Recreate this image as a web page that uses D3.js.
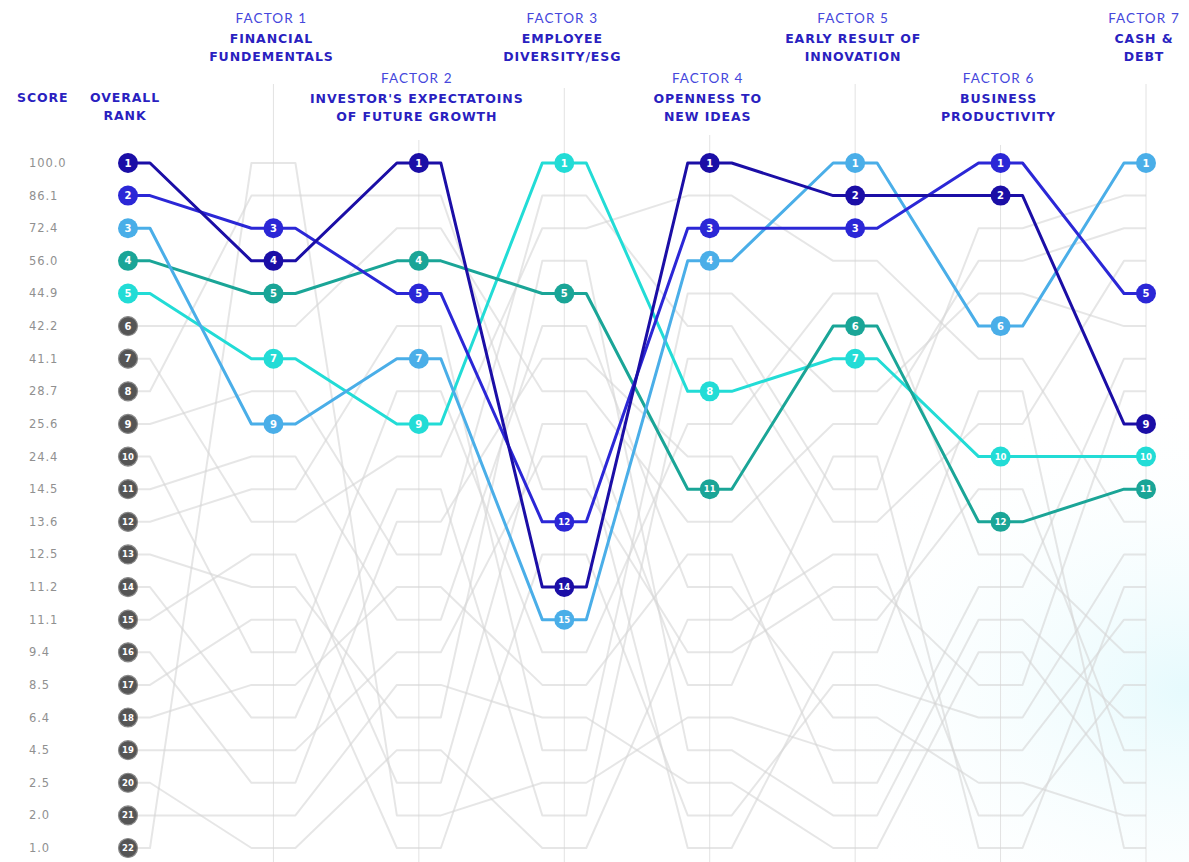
<!DOCTYPE html>
<html>
<head>
<meta charset="utf-8">
<script src="https://cdn.jsdelivr.net/npm/d3@7/dist/d3.min.js"></script>
<style>
  html, body { margin: 0; padding: 0; background: #ffffff; }
  svg { display: block; }
</style>
</head>
<body>
<svg id="chart" width="1189" height="862"></svg>
<script>
// Columns of the ranking chart: overall rank followed by seven factors
const columns = ["overall", "f1", "f2", "f3", "f4", "f5", "f6", "f7"];
const factorNumbers = ["", "FACTOR 1", "FACTOR 2", "FACTOR 3", "FACTOR 4", "FACTOR 5", "FACTOR 6", "FACTOR 7"];
const factorTitles = [
  ["OVERALL", "RANK"],
  ["FINANCIAL", "FUNDEMENTALS"],
  ["INVESTOR'S EXPECTATOINS", "OF FUTURE GROWTH"],
  ["EMPLOYEE", "DIVERSITY/ESG"],
  ["OPENNESS TO", "NEW IDEAS"],
  ["EARLY RESULT OF", "INNOVATION"],
  ["BUSINESS", "PRODUCTIVITY"],
  ["CASH &", "DEBT"]
];
// header sits high (0) or low (1)
const headerLevel = [1, 0, 1, 0, 1, 0, 1, 0];

const ranks = d3.range(1, 23);
const scoreLabels = ["100.0", "86.1", "72.4", "56.0", "44.9", "42.2", "41.1", "28.7", "25.6", "24.4",
  "14.5", "13.6", "12.5", "11.2", "11.1", "9.4", "8.5", "6.4", "4.5", "2.5", "2.0", "1.0"];

// Top five companies: rank in each column
const rankSeries1 = [1, 4, 1, 14, 1, 2, 2, 9];
const rankSeries2 = [2, 3, 5, 12, 3, 3, 1, 5];
const rankSeries3 = [3, 9, 7, 15, 4, 1, 6, 1];
const rankSeries4 = [4, 5, 4, 5, 11, 6, 12, 11];
const rankSeries5 = [5, 7, 9, 1, 8, 7, 10, 10];
const highlightColors = ["#1b0ea6", "#2b27d6", "#4aaee8", "#1aa597", "#22dcd6"];

// Remaining companies (overall ranks 6 to 22), rank in each column
const otherRanks = [
  [6, 6, 3, 8, 12, 9, 4, 3],
  [7, 12, 10, 3, 2, 4, 7, 12],
  [8, 2, 2, 11, 16, 14, 17, 8],
  [9, 8, 13, 2, 6, 11, 3, 2],
  [10, 16, 8, 16, 9, 5, 13, 16],
  [11, 10, 15, 6, 14, 18, 20, 21],
  [12, 11, 6, 19, 5, 8, 5, 6],
  [13, 14, 18, 4, 19, 21, 15, 18],
  [14, 18, 11, 21, 7, 12, 9, 4],
  [15, 13, 20, 9, 17, 10, 22, 14],
  [16, 20, 12, 7, 10, 15, 11, 19],
  [17, 15, 22, 13, 21, 17, 18, 13],
  [18, 17, 14, 17, 13, 20, 14, 7],
  [19, 19, 16, 10, 22, 16, 8, 22],
  [20, 22, 19, 22, 15, 13, 21, 17],
  [21, 21, 17, 18, 20, 22, 16, 20],
  [22, 1, 21, 20, 18, 19, 19, 15]
];

const highlightSeries = [rankSeries1, rankSeries2, rankSeries3, rankSeries4, rankSeries5];

const svg = d3.select("#chart");
const W = 1189, H = 862;

// soft tint in the lower right corner
const defs = svg.append("defs");
const grad = defs.append("radialGradient").attr("id", "tint")
  .attr("cx", "1").attr("cy", "0.8").attr("r", "0.35");
grad.append("stop").attr("offset", "0").attr("stop-color", "#e6fafd").attr("stop-opacity", 1);
grad.append("stop").attr("offset", "1").attr("stop-color", "#ffffff").attr("stop-opacity", 0);
svg.append("rect").attr("width", W).attr("height", H).attr("fill", "#fff");
svg.append("rect").attr("width", W).attr("height", H).attr("fill", "url(#tint)");

const x = d3.scalePoint().domain(columns).range([128, 1146]);
const y = d3.scalePoint().domain(ranks).range([163, 848]);
const stub = 22;

// vertical guides for each factor
const guideTop = [0, 84, 140, 88, 135, 84, 145, 84];
svg.append("g").selectAll("line")
  .data(columns.slice(1))
  .join("line")
  .attr("x1", d => x(d)).attr("x2", d => x(d))
  .attr("y1", (d, i) => guideTop[i + 1]).attr("y2", H)
  .attr("stroke", "#e2e2e2").attr("stroke-width", 1);

// headers
const headerFont = "'DejaVu Sans', sans-serif";
const head = svg.append("g");
columns.forEach((c, i) => {
  const base = headerLevel[i] === 0 ? 23 : 83;
  const cx = i === 0 ? 125 : x(c) - 2;
  if (factorNumbers[i]) {
    head.append("text").attr("x", cx).attr("y", base)
      .attr("text-anchor", "middle")
      .attr("font-family", "Lato, sans-serif").attr("font-weight", 400)
      .attr("font-size", 13.5).attr("letter-spacing", 1.1)
      .attr("fill", "#4547dc").text(factorNumbers[i]);
  }
  const tb = i === 0 ? 102 : base + 20;
  factorTitles[i].forEach((t, k) => {
    head.append("text").attr("x", cx).attr("y", tb + k * 18)
      .attr("text-anchor", "middle")
      .attr("font-family", headerFont).attr("font-weight", "bold")
      .attr("font-size", 12.5).attr("letter-spacing", 0.9)
      .attr("fill", "#2a1fc0").text(t);
  });
});
head.append("text").attr("x", 17).attr("y", 102)
  .attr("font-family", headerFont).attr("font-weight", "bold")
  .attr("font-size", 12.5).attr("letter-spacing", 0.9)
  .attr("fill", "#2a1fc0").text("SCORE");

// score labels
svg.append("g").selectAll("text")
  .data(scoreLabels)
  .join("text")
  .attr("x", 29).attr("y", (d, i) => y(ranks[i]) + 4)
  .attr("font-family", "'DejaVu Sans', sans-serif")
  .attr("font-size", 11.5).attr("letter-spacing", 0.9)
  .attr("fill", "#909090").text(d => d);

// path through a series: short flat stubs at every column, straight runs between
function seriesPoints(r) {
  const pts = [];
  r.forEach((v, i) => {
    const cx = x(columns[i]), cy = y(v);
    if (i > 0) pts.push([cx - stub, cy]);
    pts.push([cx, cy]);
    if (i < r.length - 1) pts.push([cx + stub, cy]);
  });
  return pts;
}
const line = d3.line().curve(d3.curveLinear);

// background companies
svg.append("g").selectAll("path")
  .data(otherRanks)
  .join("path")
  .attr("d", d => line(seriesPoints(d)))
  .attr("fill", "none").attr("stroke", "#d6d6d6")
  .attr("stroke-width", 2).attr("stroke-opacity", 0.6)
  .attr("stroke-linejoin", "round");

// overall rank markers for the background companies
const greyNodes = svg.append("g");
otherRanks.forEach(r => {
  const g = greyNodes.append("g").attr("transform", `translate(${x(columns[0])},${y(r[0])})`);
  g.append("circle").attr("r", 9.5).attr("fill", "#555555").attr("stroke", "#8a8a8a").attr("stroke-width", 1.2);
  g.append("text").attr("text-anchor", "middle").attr("dy", "0.36em")
    .attr("font-family", "'DejaVu Sans', sans-serif").attr("font-weight", "bold")
    .attr("font-size", r[0] >= 10 ? 8.5 : 10).attr("fill", "#fff").text(r[0]);
});

// top five companies
const hl = svg.append("g");
const order = [4, 3, 2, 1, 0];
order.forEach(si => {
  hl.append("path")
    .attr("d", line(seriesPoints(highlightSeries[si])))
    .attr("fill", "none").attr("stroke", highlightColors[si])
    .attr("stroke-width", 3).attr("stroke-linejoin", "round");
});
order.forEach(si => {
  highlightSeries[si].forEach((v, i) => {
    const g = hl.append("g").attr("transform", `translate(${x(columns[i])},${y(v)})`);
    g.append("circle").attr("r", 10).attr("fill", highlightColors[si]);
    g.append("text").attr("text-anchor", "middle").attr("dy", "0.36em")
      .attr("font-family", "'DejaVu Sans', sans-serif").attr("font-weight", "bold")
      .attr("font-size", v >= 10 ? 8.5 : 10).attr("fill", "#fff").text(v);
  });
});
</script>
</body>
</html>
